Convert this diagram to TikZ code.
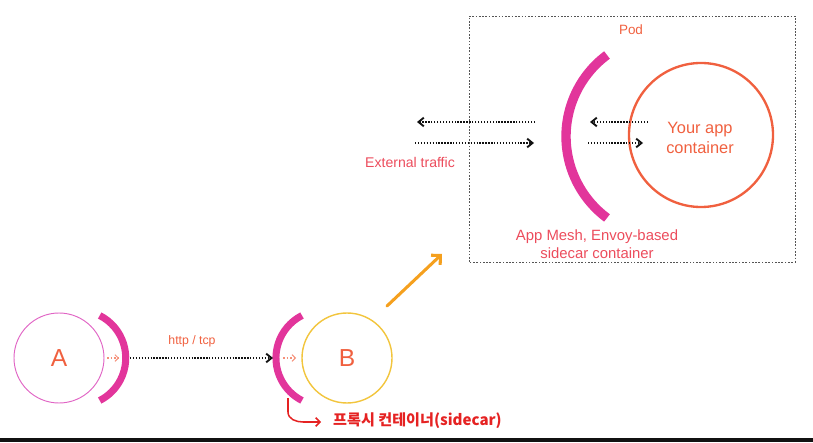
\documentclass[tikz,border=0pt]{standalone}
\usepackage{fontspec}
\setmainfont{Liberation Sans}
\newfontfamily\kofont{Noto Sans CJK KR}
\usetikzlibrary{arrows.meta,positioning,calc}
\definecolor{ink}{HTML}{111111}
\definecolor{magenta}{HTML}{E2359B}
\definecolor{pinkline}{HTML}{E064C4}
\definecolor{sun}{HTML}{F2C53D}
\definecolor{coral}{HTML}{F0603F}
\definecolor{rose}{HTML}{EC4C5C}
\definecolor{amber}{HTML}{F5A01E}
\definecolor{alert}{HTML}{E52222}
\definecolor{muted}{HTML}{555555}
\tikzset{
  svc/.style={circle,draw,inner sep=0pt,minimum size=2.7cm,text=coral,font=\fontsize{21}{24}\selectfont},
  proxy/.style={draw=magenta,line width=6pt},
  flow/.style={ink,line width=1.4pt,dash pattern=on 1.2pt off 1.3pt,-{Straight Barb[length=1.6mm,width=2.6mm,line width=1.6pt]}},
  hop/.style={coral!70,line width=0.9pt,dash pattern=on 1.5pt off 1.5pt,-{Straight Barb[length=1mm,width=2mm,line width=0.9pt]}},
  label/.style={text=coral,font=\fontsize{11.5}{13}\selectfont,align=center}
}
\begin{document}
\begin{tikzpicture}[x=0.03cm,y=0.03cm]
    \useasboundingbox (0,0) rectangle (813,442);
    \fill[ink] (0,0) rectangle (813,4);
    % service A and its sidecar
    \node[svc,draw=pinkline,line width=0.8pt] (A) at (59,84) {A};
    \draw[proxy] (99.7,126.5) arc[start angle=63,end angle=-63,radius=47.7];
    \coordinate (aout1) at (107,84);
    \coordinate (aout2) at (119,84);
    \draw[hop] (aout1) -- (aout2);
    % service B and its sidecar
    \node[svc,draw=sun,line width=1.2pt] (B) at (347,84) {B};
    \draw[proxy] (302,126.5) arc[start angle=117,end angle=243,radius=47.7];
    \coordinate (bin1) at (283,84);
    \coordinate (bin2) at (296,84);
    \draw[hop] (bin1) -- (bin2);
    % mesh traffic
    \coordinate (meshS) at (130,84);
    \coordinate (meshE) at (273,84);
    \draw[flow] (meshS) -- (meshE);
    \node[label,font=\fontsize{10.5}{12}\selectfont] (proto) at (192,101) {http / tcp};
    % callout
    \coordinate (calloutS) at (288,44);
    \coordinate (calloutE) at (321,20);
    \draw[alert,line width=1.3pt,-{Straight Barb[length=1.3mm,width=2.6mm,line width=1.3pt]}]
      (calloutS) -- (288,30) to[out=-90,in=180] (303,20) -- (calloutE);
    \node[anchor=west,text=alert,inner sep=0pt,font=\kofont\bfseries\fontsize{12.9}{14}\selectfont] (note) at (333,21) {프록시 컨테이너(sidecar)};
    % zoom into B
    \coordinate (zoomS) at (387,136);
    \coordinate (zoomE) at (442,188);
    \draw[amber,line width=2.6pt,line cap=round,-{Straight Barb[length=2mm,width=4mm,line width=2.6pt]}] (zoomS) -- (zoomE);
    % pod
    \draw[muted,line width=0.6pt,dash pattern=on 1.4pt off 1.4pt] (469,180) rectangle (795,426);
    \node[label] (pod) at (631,412) {Pod};
    \draw[proxy,line width=8pt] (607,387) arc[start angle=126.6,end angle=233.4,radius=101.5];
    \node[circle,draw=coral,line width=2pt,minimum size=4.32cm] (app) at (701,307) {};
    \node[text=coral,font=\fontsize{14}{16.5}\selectfont,align=center] (apptext) at (700,304) {Your app\\container};
    \coordinate (extA) at (535,320);
    \coordinate (extB) at (417,320);
    \coordinate (extC) at (415,299);
    \coordinate (extD) at (534,299);
    \coordinate (inA) at (648,320);
    \coordinate (inB) at (590,320);
    \coordinate (inC) at (588,299);
    \coordinate (inD) at (643,299);
    \draw[flow] (extA) -- (extB);
    \draw[flow] (extC) -- (extD);
    \draw[flow] (inA) -- (inB);
    \draw[flow] (inC) -- (inD);
    \node[label,text=rose,font=\fontsize{12}{14}\selectfont] (ext) at (410,280) {External traffic};
    \node[label,text=rose,font=\fontsize{12.7}{15.3}\selectfont] (envoy) at (597,198) {App Mesh, Envoy-based\\sidecar container};
  \end{tikzpicture}
\end{document}
